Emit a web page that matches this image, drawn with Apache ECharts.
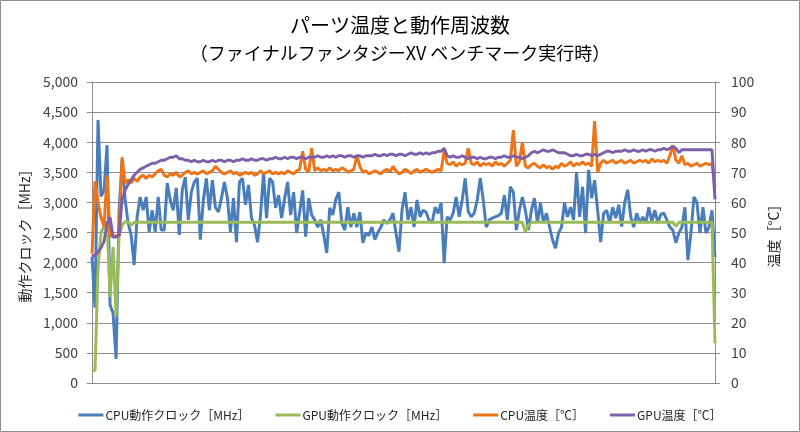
<!DOCTYPE html>
<html><head><meta charset="utf-8">
<script src="https://cdn.jsdelivr.net/npm/echarts@6/dist/echarts.min.js"></script>
<style>html,body{margin:0;padding:0;background:#fff}#c{width:800px;height:432px}</style>
</head><body><div id="c"></div>
<script>
const titleLine1 = 'パーツ温度と動作周波数';
const titleLine2 = '（ファイナルファンタジーXV ベンチマーク実行時）';
const seriesNames = ['CPU動作クロック［MHz］','GPU動作クロック［MHz］','CPU温度［℃］','GPU温度［℃］'];
const leftAxisName = '動作クロック［MHz］';
const rightAxisName = '温度［°C］';

const cpuClock = [
2100,1250,4370,3100,3200,3950,1300,1160,400,2870,
3700,3050,2660,2460,1960,2760,3090,2870,3090,2510,
2870,2510,3090,2540,2540,3320,3040,2870,3240,2460,
3210,3420,2710,3170,3340,3400,2380,3040,3400,2870,
3370,2920,2840,3070,3340,3070,2510,3070,2340,3340,
3400,2960,3290,2740,2620,2340,2790,3500,2740,3400,
3340,2910,3120,2740,3070,3340,2790,3170,2490,2840,
3200,2430,3070,2790,2710,2590,2710,2460,2160,2910,
2790,3050,3170,2660,2540,2920,2590,2820,2590,2840,
2330,2490,2450,2590,2380,2500,2590,2710,2650,2710,
2820,2490,2180,2870,3170,2710,2920,2590,3040,2760,
2870,2840,2700,2660,2920,2820,2990,1990,2760,2710,
2820,3090,2760,3040,3400,2850,2760,2820,3040,3400,
3040,2590,2710,2740,2760,2780,2820,3120,2710,3260,
3170,2540,2870,3090,2870,2540,2870,3070,2660,2990,
2660,2820,2600,2380,2240,2490,2590,2990,2760,2920,
2710,3500,2760,3260,2490,3540,3070,3370,2870,2340,
2820,2870,2660,2920,2740,2960,2600,3000,3210,2760,
2590,2820,2660,2760,2660,2920,2680,2870,2660,2800,
2820,2710,2590,2540,2330,2490,2590,2920,2040,2490,
3090,3000,2490,2920,2490,2590,2870,2090];

const gpuClock = [
200,210,1900,2500,2600,2680,1430,2260,1100,2450,
2620,2680,2680,2620,2670,2670,2670,2670,2670,2670,
2670,2670,2670,2670,2670,2670,2670,2670,2670,2670,
2670,2670,2670,2670,2670,2670,2670,2670,2670,2670,
2670,2670,2670,2670,2670,2670,2670,2670,2670,2670,
2670,2670,2670,2670,2670,2670,2670,2670,2670,2670,
2670,2670,2670,2670,2670,2670,2670,2670,2670,2670,
2670,2670,2670,2670,2670,2670,2670,2670,2670,2670,
2670,2670,2670,2670,2670,2670,2670,2670,2670,2670,
2670,2670,2670,2670,2670,2670,2670,2670,2670,2670,
2670,2670,2670,2670,2670,2670,2670,2670,2670,2670,
2670,2670,2670,2670,2670,2670,2670,2670,2670,2670,
2670,2670,2670,2670,2670,2670,2670,2670,2670,2670,
2670,2670,2670,2670,2670,2670,2670,2670,2670,2670,
2670,2670,2670,2670,2510,2620,2670,2670,2670,2670,
2670,2670,2670,2670,2670,2670,2670,2670,2670,2670,
2670,2670,2670,2670,2670,2670,2670,2670,2670,2670,
2670,2670,2670,2670,2670,2670,2670,2670,2670,2670,
2670,2670,2670,2670,2670,2670,2670,2670,2670,2670,
2670,2670,2670,2670,2600,2670,2670,2670,2670,2670,
2670,2670,2670,2670,2670,2670,2670,660];

const cpuTemp = [
43,67,60,55,52,69,49,48.5,49,49,
75,66.5,67.5,66.5,68,67,68.5,69,68,69,
68.5,69.5,70.5,71,69,68.5,69.5,69,70,68.5,
69,70,70.5,69.5,70,69.5,70,70.5,69.5,70,
70.5,72,71,70,69.5,70,70.5,69.5,70,69,
69.5,70,69.5,70,69,69.5,70.5,69.5,70,70.5,
69.5,70,69.5,70,69.5,70.5,70,69.5,70.5,71,
77,71,70,78,70.5,71.5,70.5,71,70.5,71.5,
70.5,71,70.5,71.5,71,70,70.5,71,75.5,72,
70,70.5,69.5,70,70.5,70,69.5,70.5,71,70,
72,70.5,69.5,70,71,70.5,69.5,70.5,71,70,
70.5,71,70.5,70,70.5,71,70.5,77,73,72.5,
73.5,72,73,72.5,73,78,73,72.5,73.5,72,
73,72.5,73,72,73.5,72.5,73,72,73,74,
84,72,73.5,80,72,71.5,72.5,73,72,71.5,
72.5,71.5,72,71,72,71.5,73,72,72.5,73.5,
72,73,72.5,73.5,72.5,73,72,87,70,73,
74,73,73.5,74,73,73.5,74,73,73.5,74,
73,73.5,74,73.5,74,73,74.5,73.5,74,73.5,
74,73,75.5,79,74,73,75.5,72.5,73,72,
72.5,73,72,72.5,73,72.5,73,65];

const gpuTemp = [
42,42.5,43.5,45,47,53,55,48.5,48.5,49,
61,64,66,67.5,69,70,71,71.5,72,72.5,
73,73,73.5,74,74,74.5,75,75,75.5,74.5,
74.5,74,74,73.5,74,73.5,73.5,74,73.5,73.5,
74,73.5,74,74,73.5,74,74,73.5,74,74,
74.5,74,74,74.5,74,74,74.5,74.5,74,74.5,
74.5,75,74.5,74.5,75,74.5,75,75,74.5,75,
75,74.5,75,75,75,75.5,75,75,75.5,75,
75.5,75,75.5,75.5,75,75.5,75.5,75,75.5,75.5,
75,75.5,75.5,75.5,76,75.5,75.5,76,75.5,76,
76,75.5,76,76,75.5,76,76.5,76,76,76.5,
76,76.5,76,76.5,76.5,77,77,78,75.5,75,
75.5,75,75,75.5,75,74.5,75,75,74.5,75,
74.5,74.5,75,75,74.5,75,75,75.5,75,75,
75.5,75,75,74.5,75,75.5,76.5,77,76.5,77,
77.5,77,77,77.5,77,76.5,76.5,76.5,76,75.5,
75.5,76,75.5,75.5,76,76,75.5,76,75.5,76,
76.5,77,77,76.5,77,77,77,77.5,77,77,
77.5,77,77,77.5,77,77.5,77.5,77,77.5,77.5,
78,77.5,78,78.5,78,76.5,77.5,77.5,77.5,77.5,
77.5,77.5,77.5,77.5,77.5,77.5,77.5,61];

const samples = cpuClock.map((_, i) => String(i + 1));
const colors = ['#4A7EBB', '#9BBB59', '#EE7418', '#7F5FA8'];
const FONT = '"Noto Sans CJK JP", "Noto Sans", sans-serif';
const gridColor = '#8C8C8C';

const chart = echarts.init(document.getElementById('c'), null, {renderer: 'canvas'});
const mk = (name, data, idx, yi) => ({
  name, type: 'line', data, yAxisIndex: yi, showSymbol: false, symbol: 'none',
  lineStyle: {width: 3, color: colors[idx]}, itemStyle: {color: colors[idx]},
  animation: false, z: 2 + idx
});
chart.setOption({
  animation: false,
  textStyle: {fontFamily: FONT},
  graphic: [{type: 'rect', shape: {x: 0.5, y: 0.5, width: 799, height: 431},
    style: {fill: 'none', stroke: '#8C8C8C', lineWidth: 1}, silent: true}],
  title: {
    left: 'center', top: 6,
    text: '{a|' + titleLine1 + '}\n{b|' + titleLine2 + '}',
    textStyle: {
      fontWeight: 'normal',
      rich: {
        a: {fontSize: 20, lineHeight: 28, color: '#000', fontFamily: FONT, fontWeight: 'normal'},
        b: {fontSize: 18, lineHeight: 28, color: '#000', fontFamily: FONT, fontWeight: 'normal'}
      }
    }
  },
  legend: {
    bottom: 6, left: 'center', itemWidth: 25, itemHeight: 3, itemGap: 26, icon: 'rect',
    textStyle: {fontSize: 12, color: '#262626', fontFamily: FONT, padding: [0, 0, 0, -3]},
    data: seriesNames
  },
  grid: {left: 92, right: 85, top: 82, bottom: 49, containLabel: false},
  xAxis: {
    type: 'category', data: samples, boundaryGap: false,
    axisLine: {show: true, lineStyle: {color: gridColor, width: 1}},
    axisTick: {show: false}, axisLabel: {show: false}, splitLine: {show: false}
  },
  yAxis: [
    {type: 'value', min: 0, max: 5000, interval: 500, position: 'left',
     name: leftAxisName, nameLocation: 'middle', nameRotate: 90, nameGap: 57,
     nameTextStyle: {fontSize: 14, color: '#262626', fontFamily: FONT},
     axisLine: {show: true, lineStyle: {color: gridColor}},
     axisTick: {show: true, length: 5, lineStyle: {color: gridColor}},
     axisLabel: {fontSize: 14, color: '#404040', margin: 14, fontFamily: FONT},
     splitLine: {show: true, lineStyle: {color: gridColor, width: 1}}},
    {type: 'value', min: 0, max: 100, interval: 10, position: 'right',
     name: rightAxisName, nameLocation: 'middle', nameRotate: 90, nameGap: 52,
     nameTextStyle: {fontSize: 14, color: '#262626', fontFamily: FONT},
     axisLine: {show: true, lineStyle: {color: gridColor}},
     axisTick: {show: true, length: 5, lineStyle: {color: gridColor}},
     axisLabel: {fontSize: 14, color: '#404040', margin: 16, fontFamily: FONT},
     splitLine: {show: false}}
  ],
  series: [
    mk(seriesNames[0], cpuClock, 0, 0),
    mk(seriesNames[1], gpuClock, 1, 0),
    mk(seriesNames[2], cpuTemp, 2, 1),
    mk(seriesNames[3], gpuTemp, 3, 1)
  ]
});
</script></body></html>
